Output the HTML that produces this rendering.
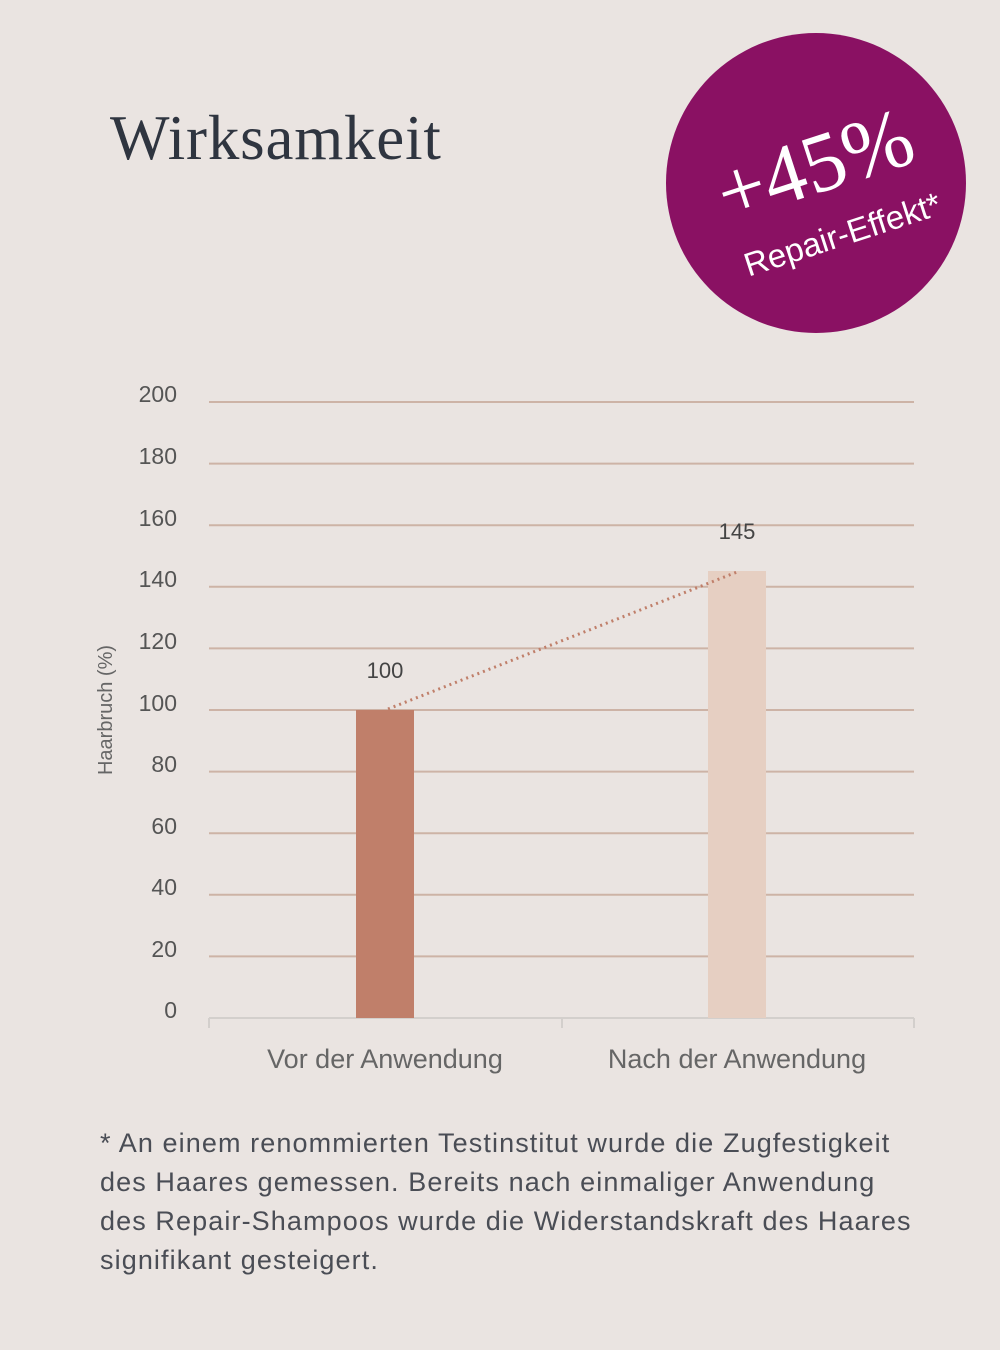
<!DOCTYPE html>
<html><head><meta charset="utf-8"><style>
html,body{margin:0;padding:0}
body{width:1000px;height:1350px;background:#eae4e1;position:relative;overflow:hidden;font-family:"Liberation Sans",sans-serif}
.title{position:absolute;left:110px;top:102px;font-family:"Liberation Serif",serif;font-size:63px;color:#2f3540;letter-spacing:0.8px}
.circle{position:absolute;left:666px;top:33px;width:300px;height:300px;border-radius:50%;background:#8a1163}
.foot{position:absolute;left:100px;top:1124px;font-size:27px;line-height:39px;color:#4a4d55;white-space:nowrap;letter-spacing:1.1px}
</style></head><body>
<div class="title">Wirksamkeit</div>
<div class="circle"></div>
<svg width="1000" height="1350" style="position:absolute;left:0;top:0">
<g transform="translate(828,190) rotate(-18)">
<text x="-5" y="0" text-anchor="middle" style="font-family:'Liberation Serif',serif;font-size:84px" fill="#fff">+45%</text>
<text x="0" y="58" text-anchor="middle" style="font-family:'Liberation Sans',sans-serif;font-size:33px" fill="#fff">Repair-Effekt*</text>
</g>
<g stroke="#cdb3a6" stroke-width="2">
<line x1="209" x2="914" y1="402" y2="402"/><line x1="209" x2="914" y1="463.6" y2="463.6"/>
<line x1="209" x2="914" y1="525.2" y2="525.2"/><line x1="209" x2="914" y1="586.8" y2="586.8"/>
<line x1="209" x2="914" y1="648.4" y2="648.4"/><line x1="209" x2="914" y1="710" y2="710"/>
<line x1="209" x2="914" y1="771.6" y2="771.6"/><line x1="209" x2="914" y1="833.2" y2="833.2"/>
<line x1="209" x2="914" y1="894.8" y2="894.8"/><line x1="209" x2="914" y1="956.4" y2="956.4"/>
</g>
<g stroke="#d3cfcc" stroke-width="2">
<line x1="209" x2="914" y1="1018" y2="1018"/>
<line x1="209" x2="209" y1="1018" y2="1028"/><line x1="562" x2="562" y1="1018" y2="1028"/><line x1="914" x2="914" y1="1018" y2="1028"/>
</g>
<rect x="356" y="710" width="58" height="308" fill="#c07f6a"/>
<rect x="708" y="571" width="58" height="447" fill="#e6cfc2"/>
<line x1="388" y1="709" x2="737" y2="572" stroke="#c07f6a" stroke-width="3" stroke-dasharray="2,4"/>
<g font-size="23" fill="#555" text-anchor="end">
<text x="177" y="402">200</text><text x="177" y="464">180</text><text x="177" y="526">160</text>
<text x="177" y="587">140</text><text x="177" y="649">120</text><text x="177" y="711">100</text>
<text x="177" y="772">80</text><text x="177" y="834">60</text><text x="177" y="895">40</text>
<text x="177" y="957">20</text><text x="177" y="1018">0</text>
</g>
<g font-size="22" fill="#444" text-anchor="middle">
<text x="385" y="678">100</text><text x="737" y="539">145</text>
</g>
<text transform="translate(112,710) rotate(-90)" text-anchor="middle" font-size="20" fill="#666">Haarbruch (%)</text>
<g font-size="27" fill="#666" text-anchor="middle">
<text x="385" y="1068">Vor der Anwendung</text><text x="737" y="1068">Nach der Anwendung</text>
</g>
</svg>
<div class="foot">* An einem renommierten Testinstitut wurde die Zugfestigkeit<br>des Haares gemessen. Bereits nach einmaliger Anwendung<br>des Repair-Shampoos wurde die Widerstandskraft des Haares<br>signifikant gesteigert.</div>
</body></html>
